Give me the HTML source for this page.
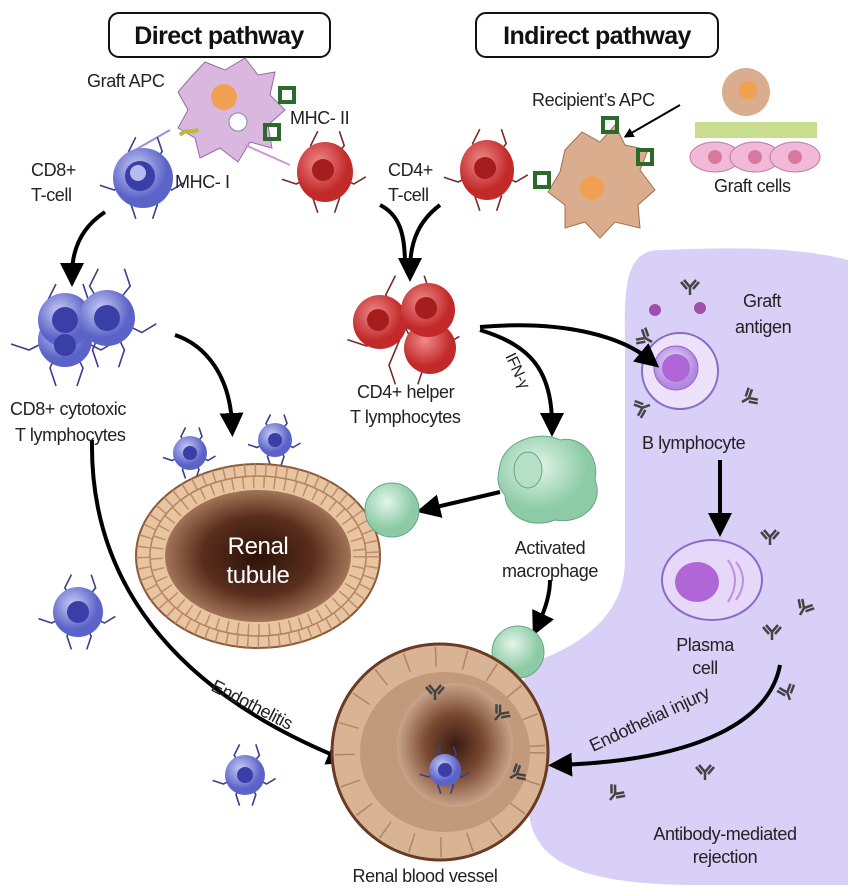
<!DOCTYPE html>
<html><head><meta charset="utf-8"><style>
html,body{margin:0;padding:0;background:#fff;width:848px;height:890px;overflow:hidden}
svg{display:block}
text{font-family:"Liberation Sans Narrow","Liberation Sans",sans-serif;font-size:18px;fill:#222;letter-spacing:-0.4px}
.t{font-size:25px;font-weight:bold;fill:#111;letter-spacing:-0.6px}
#sp path,#spr path{vector-effect:non-scaling-stroke}
</style></head><body>
<svg width="848" height="890" viewBox="0 0 848 890" xmlns="http://www.w3.org/2000/svg">
<defs>
<radialGradient id="blue" cx="40%" cy="35%"><stop offset="0" stop-color="#c9cdf5"/><stop offset="1" stop-color="#5b63c8"/></radialGradient>
<radialGradient id="red" cx="40%" cy="35%"><stop offset="0" stop-color="#f08a8a"/><stop offset="1" stop-color="#c22a2a"/></radialGradient>
<radialGradient id="green" cx="40%" cy="35%"><stop offset="0" stop-color="#e3f5ea"/><stop offset="1" stop-color="#8ccba5"/></radialGradient>
<radialGradient id="tub" cx="50%" cy="50%"><stop offset="0" stop-color="#2a120a"/><stop offset=".6" stop-color="#5a2e1c"/><stop offset="1" stop-color="#a27458"/></radialGradient>
<radialGradient id="ves" cx="50%" cy="50%"><stop offset="0" stop-color="#3a1a10"/><stop offset=".5" stop-color="#7a4a32"/><stop offset="1" stop-color="#c9a58a"/></radialGradient>
<radialGradient id="purp" cx="45%" cy="40%"><stop offset="0" stop-color="#f0e4fb"/><stop offset="1" stop-color="#b08ae0"/></radialGradient>
<marker id="ar" viewBox="0 0 10 10" refX="5" refY="5" markerWidth="5" markerHeight="5" orient="auto"><path d="M0,0L10,5L0,10z" fill="#000"/></marker>
<marker id="ar2" viewBox="0 0 10 10" refX="5" refY="5" markerWidth="6" markerHeight="6" orient="auto"><path d="M0,0L10,5L0,10z" fill="#000"/></marker>
<g id="ab"><path d="M0,0 L0,-8 M0,-8 L-6,-15 M0,-8 L6,-15 M-3,-6 L-9,-13 M3,-6 L9,-13" stroke="#444" stroke-width="2.5" fill="none"/></g>
<g id="sp" stroke="#3a3f8a" stroke-width="1.6" fill="none"><path d="M0,-1 l-6,-10 l3,-6"/><path d="M0,-1 l8,-10 l-2,-6"/><path d="M0,-1 l-12,6 l-6,-2"/><path d="M0,-1 l12,6 l5,-3"/><path d="M0,-1 l-5,12 l2,6"/><path d="M0,-1 l6,12 l-2,6"/></g>
<g id="spr" stroke="#7a2a2a" stroke-width="1.6" fill="none"><path d="M0,-1 l-6,-10 l3,-6"/><path d="M0,-1 l8,-10 l-2,-6"/><path d="M0,-1 l-12,6 l-6,-2"/><path d="M0,-1 l12,6 l5,-3"/><path d="M0,-1 l-5,12 l2,6"/><path d="M0,-1 l6,12 l-2,6"/></g>
</defs>
<path d="M660,250 C620,250 625,300 625,360 L625,560 C625,610 590,640 540,660 C505,680 520,760 530,820 C540,870 600,885 700,885 L848,885 L848,260 C790,245 720,248 660,250Z" fill="#d8d0f6"/>
<use href="#ab" transform="translate(770,545)"/><use href="#ab" transform="translate(800,615) rotate(30)"/><use href="#ab" transform="translate(772,640)"/><use href="#ab" transform="translate(790,700) rotate(-20)"/><use href="#ab" transform="translate(610,800) rotate(40)"/><use href="#ab" transform="translate(705,780)"/><use href="#ab" transform="translate(652,342) rotate(-60)"/><use href="#ab" transform="translate(742,402) rotate(60)"/><use href="#ab" transform="translate(650,405) rotate(-110)"/><use href="#ab" transform="translate(690,295)"/>
<rect x="109" y="13" width="221" height="44" rx="10" fill="#fff" stroke="#111" stroke-width="2"/>
<text class="t" x="219" y="44" text-anchor="middle">Direct pathway</text>
<rect x="476" y="13" width="242" height="44" rx="10" fill="#fff" stroke="#111" stroke-width="2"/>
<text class="t" x="597" y="44" text-anchor="middle">Indirect pathway</text>
<path d="M190,78 L205,62 L225,70 L245,58 L258,75 L275,72 L270,95 L285,110 L268,125 L272,148 L250,142 L238,162 L220,148 L200,158 L195,138 L178,128 L188,110 L178,92Z" fill="#d9b7df" stroke="#9a6aa5"/>
<circle cx="224" cy="97" r="13" fill="#f0a050"/>
<circle cx="238" cy="122" r="9" fill="#fff" stroke="#889"/>
<line x1="170" y1="130" x2="135" y2="150" stroke="#a68bd0" stroke-width="2"/>
<line x1="245" y1="145" x2="290" y2="165" stroke="#c99ad0" stroke-width="2"/>
<path d="M280,88 h14 v14 h-14z M265,125 h14 v14 h-14z" fill="none" stroke="#2a6a2a" stroke-width="4"/>
<path d="M180,135 c8,-8 12,0 18,-6" fill="none" stroke="#b8b840" stroke-width="4"/>
<use href="#sp" transform="translate(143,178) scale(2.4)"/>
<circle cx="143" cy="178" r="30" fill="url(#blue)"/><circle cx="140" cy="176" r="15" fill="#3a3fa8"/><circle cx="138" cy="173" r="8" fill="#b6bcf2"/>
<use href="#spr" transform="translate(325,172) scale(2.4)"/>
<ellipse cx="325" cy="172" rx="28" ry="30" fill="url(#red)"/><circle cx="323" cy="170" r="11" fill="#a51d1d"/>
<use href="#spr" transform="translate(487,170) scale(2.4)"/>
<ellipse cx="487" cy="170" rx="27" ry="30" fill="url(#red)"/><circle cx="485" cy="168" r="11" fill="#a51d1d"/>
<path d="M565,150 L582,132 L600,142 L615,125 L625,145 L648,150 L640,170 L655,190 L638,205 L640,228 L615,222 L600,238 L585,222 L565,228 L565,205 L548,192 L560,172Z" fill="#d9ad8d" stroke="#a07050"/>
<circle cx="592" cy="188" r="12" fill="#f0a050"/>
<path d="M535,173 h14 v14 h-14z M603,118 h14 v14 h-14z M638,150 h14 v14 h-14z" fill="none" stroke="#2a6a2a" stroke-width="4"/>
<circle cx="746" cy="92" r="24" fill="#d9ad8d"/><circle cx="748" cy="90" r="9" fill="#f0a050"/>
<g fill="#f1b8d8" stroke="#c27aa3"><ellipse cx="715" cy="157" rx="25" ry="15"/><ellipse cx="755" cy="157" rx="25" ry="15"/><ellipse cx="795" cy="157" rx="25" ry="15"/></g>
<g fill="#d77aa0"><circle cx="715" cy="157" r="7"/><circle cx="755" cy="157" r="7"/><circle cx="795" cy="157" r="7"/></g>
<rect x="695" y="122" width="122" height="16" fill="#c8de8e"/>
<line x1="680" y1="105" x2="628" y2="135" stroke="#000" stroke-width="2" marker-end="url(#ar)"/>
<path d="M105,212 C85,225 72,245 72,275" fill="none" stroke="#000" stroke-width="4" marker-end="url(#ar2)"/>
<path d="M380,205 C400,215 405,235 405,265" fill="none" stroke="#000" stroke-width="4"/>
<path d="M440,205 C420,220 410,240 410,270" fill="none" stroke="#000" stroke-width="4" marker-end="url(#ar2)"/>
<use href="#sp" transform="translate(65,335) scale(3)"/><use href="#sp" transform="translate(107,318) scale(2.9)"/>
<circle cx="65" cy="340" r="27" fill="url(#blue)"/><circle cx="65" cy="320" r="27" fill="url(#blue)"/><circle cx="107" cy="318" r="28" fill="url(#blue)"/>
<circle cx="65" cy="320" r="13" fill="#3a3fa8"/><circle cx="107" cy="318" r="13" fill="#3a3fa8"/><circle cx="65" cy="345" r="11" fill="#3a3fa8"/>
<use href="#spr" transform="translate(405,330) scale(3.2)"/>
<circle cx="430" cy="348" r="26" fill="url(#red)"/><circle cx="380" cy="322" r="27" fill="url(#red)"/><circle cx="428" cy="310" r="27" fill="url(#red)"/>
<circle cx="378" cy="320" r="11" fill="#a51d1d"/><circle cx="426" cy="308" r="11" fill="#a51d1d"/>
<circle cx="680" cy="371" r="38" fill="#ece3fa" stroke="#8a6ac8" stroke-width="2"/><circle cx="676" cy="368" r="22" fill="url(#purp)" stroke="#a060c8"/><circle cx="676" cy="368" r="14" fill="#b066d6"/>
<circle cx="655" cy="310" r="6" fill="#a050a8"/><circle cx="700" cy="308" r="6" fill="#a050a8"/>
<path d="M480,327 C560,320 620,335 650,360" fill="none" stroke="#000" stroke-width="4" marker-end="url(#ar2)"/>
<path d="M480,330 C530,345 552,370 552,425" fill="none" stroke="#000" stroke-width="4" marker-end="url(#ar2)"/>
<path d="M175,335 C205,345 230,375 232,425" fill="none" stroke="#000" stroke-width="4" marker-end="url(#ar2)"/>
<path d="M92,440 C90,560 150,680 340,758" fill="none" stroke="#000" stroke-width="4" marker-end="url(#ar2)"/>
<path d="M720,460 L720,525" fill="none" stroke="#000" stroke-width="4" marker-end="url(#ar2)"/>
<path d="M500,492 L428,509" fill="none" stroke="#000" stroke-width="4" marker-end="url(#ar2)"/>
<path d="M550,580 C550,595 545,610 538,625" fill="none" stroke="#000" stroke-width="4" marker-end="url(#ar2)"/>
<path d="M780,665 C770,720 700,760 560,765" fill="none" stroke="#000" stroke-width="4" marker-end="url(#ar2)"/>
<use href="#sp" transform="translate(190,453) scale(1.5)"/><circle cx="190" cy="453" r="17" fill="url(#blue)"/><circle cx="190" cy="453" r="7" fill="#3a3fa8"/>
<use href="#sp" transform="translate(275,440) scale(1.5)"/><circle cx="275" cy="440" r="17" fill="url(#blue)"/><circle cx="275" cy="440" r="7" fill="#3a3fa8"/>
<use href="#sp" transform="translate(78,612) scale(2.2)"/><circle cx="78" cy="612" r="25" fill="url(#blue)"/><circle cx="78" cy="612" r="11" fill="#3a3fa8"/>
<use href="#sp" transform="translate(245,775) scale(1.8)"/><circle cx="245" cy="775" r="20" fill="url(#blue)"/><circle cx="245" cy="775" r="8" fill="#3a3fa8"/>
<ellipse cx="258" cy="556" rx="122" ry="92" fill="#e8c4a0" stroke="#8a5a3a" stroke-width="2"/>
<ellipse cx="258" cy="556" rx="108" ry="80" fill="none" stroke="#b08060" stroke-width="1.5"/>
<ellipse cx="258" cy="556" rx="115" ry="86" fill="none" stroke="#b08060" stroke-width="14" stroke-dasharray="1.5 9" opacity=".8"/>
<ellipse cx="258" cy="556" rx="101" ry="74" fill="none" stroke="#b08060" stroke-width="12" stroke-dasharray="1.5 9" opacity=".8"/>
<ellipse cx="258" cy="556" rx="93" ry="66" fill="url(#tub)"/>
<text x="258" y="554" text-anchor="middle" style="fill:#fff;font-size:24px">Renal</text>
<text x="258" y="583" text-anchor="middle" style="fill:#fff;font-size:24px">tubule</text>
<path d="M500,465 C505,440 540,430 560,440 C580,435 600,455 595,480 C605,505 580,525 555,520 C530,530 505,515 505,495 C495,485 498,475 500,465Z" fill="url(#green)" stroke="#6aa58a"/>
<ellipse cx="528" cy="470" rx="14" ry="18" fill="#b5e0c6" stroke="#6aa58a"/>
<circle cx="392" cy="510" r="27" fill="url(#green)" stroke="#6aa58a"/>
<circle cx="518" cy="652" r="26" fill="url(#green)" stroke="#6aa58a"/>
<ellipse cx="712" cy="580" rx="50" ry="40" fill="#e6d8f8" stroke="#8a6ac8" stroke-width="2"/>
<ellipse cx="697" cy="582" rx="22" ry="20" fill="#b066d6"/>
<path d="M728,560 q14,20 0,42 M736,562 q14,18 0,38" fill="none" stroke="#c090e0" stroke-width="2"/>
<ellipse cx="440" cy="752" rx="108" ry="108" fill="#d8b494" stroke="#6a3a25" stroke-width="3"/>
<circle cx="440" cy="752" r="95" fill="none" stroke="#a87858" stroke-width="20" stroke-dasharray="1.5 28" opacity=".8"/>
<ellipse cx="445" cy="752" rx="85" ry="80" fill="#c19a7c"/>
<ellipse cx="455" cy="745" rx="58" ry="62" fill="url(#ves)"/>
<use href="#ab" transform="translate(435,700)" /><use href="#ab" transform="translate(495,720) rotate(40)"/><use href="#ab" transform="translate(510,778) rotate(60)"/>
<use href="#sp" transform="translate(445,770) scale(1.4)"/><circle cx="445" cy="770" r="16" fill="url(#blue)"/><circle cx="445" cy="770" r="7" fill="#3a3fa8"/>
<text x="87" y="87">Graft APC</text>
<text x="290" y="124">MHC- II</text>
<text x="31" y="176">CD8+</text>
<text x="31" y="201">T-cell</text>
<text x="175" y="188">MHC- I</text>
<text x="388" y="176">CD4+</text>
<text x="388" y="201">T-cell</text>
<text x="532" y="106">Recipient’s APC</text>
<text x="714" y="192">Graft cells</text>
<text x="743" y="307">Graft</text>
<text x="735" y="333">antigen</text>
<text x="10" y="415">CD8+ cytotoxic</text>
<text x="15" y="441">T lymphocytes</text>
<text x="357" y="398">CD4+ helper</text>
<text x="350" y="423">T lymphocytes</text>
<text x="0" y="0" transform="translate(505,356) rotate(65)" style="font-size:16px">IFN-γ</text>
<text x="642" y="449">B lymphocyte</text>
<text x="550" y="554" text-anchor="middle">Activated</text>
<text x="550" y="577" text-anchor="middle">macrophage</text>
<text x="705" y="651" text-anchor="middle">Plasma</text>
<text x="705" y="674" text-anchor="middle">cell</text>
<text x="0" y="0" transform="translate(210,690) rotate(27)">Endothelitis</text>
<text x="0" y="0" transform="translate(593,752) rotate(-25)">Endothelial injury</text>
<text x="725" y="840" text-anchor="middle">Antibody-mediated</text>
<text x="725" y="863" text-anchor="middle">rejection</text>
<text x="425" y="882" text-anchor="middle">Renal blood vessel</text>
</svg>
</body></html>
